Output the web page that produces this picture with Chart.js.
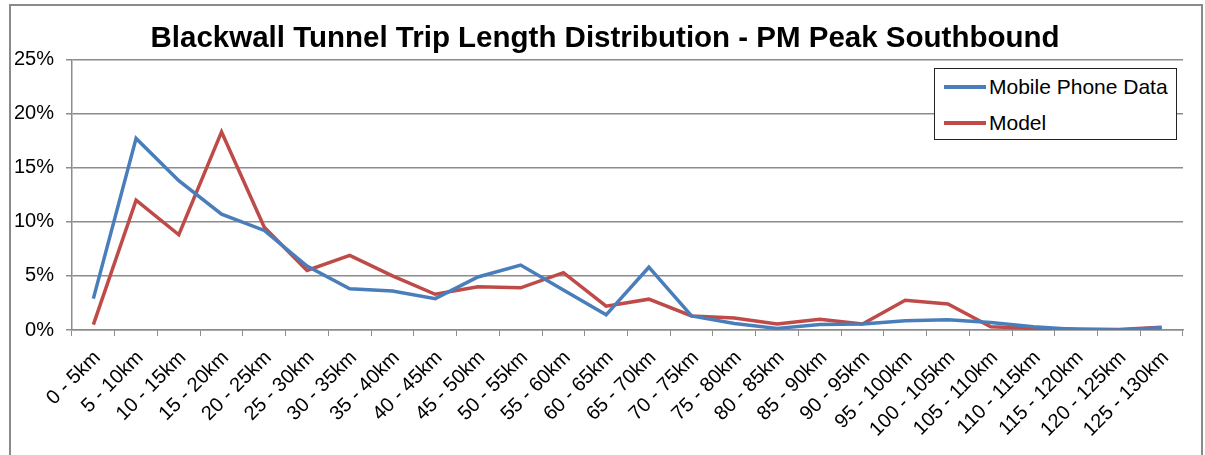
<!DOCTYPE html>
<html>
<head>
<meta charset="utf-8">
<title>Blackwall Tunnel Trip Length Distribution</title>
<script src="https://cdn.jsdelivr.net/npm/chart.js@4/dist/chart.umd.min.js"></script>
<style>
  html, body { margin: 0; padding: 0; background: #fff; overflow: hidden; }
  #wrap { position: relative; width: 1205px; height: 455px; }
  #frame {
    position: absolute; left: 9px; top: 4px; width: 1190px; height: 520px;
    border: 2px solid #8a8a8a; border-bottom: none; pointer-events: none;
  }
  #legend {
    position: absolute; left: 934px; top: 68px; width: 241px; height: 70px;
    border: 1px solid #222; background: #fff;
    font-family: "Liberation Sans", Arial, sans-serif; font-size: 21px; color: #000;
  }
  .leg-row { position: absolute; left: 9px; height: 24px; display: flex; align-items: center; }
  .leg-line { width: 42px; height: 4px; margin-right: 3px; }
</style>
</head>
<body>
<div id="wrap">
  <canvas id="chart" width="1205" height="455"></canvas>
  <div id="frame"></div>
  <div id="legend"></div>
</div>
<script>
// Trip length bands (km)
const bands = [
  "0 - 5km", "5 - 10km", "10 - 15km", "15 - 20km", "20 - 25km", "25 - 30km",
  "30 - 35km", "35 - 40km", "40 - 45km", "45 - 50km", "50 - 55km", "55 - 60km",
  "60 - 65km", "65 - 70km", "70 - 75km", "75 - 80km", "80 - 85km", "85 - 90km",
  "90 - 95km", "95 - 100km", "100 - 105km", "105 - 110km", "110 - 115km",
  "115 - 120km", "120 - 125km", "125 - 130km"
];

// Share of trips (%)
const mobilePhoneData = [
  2.9, 17.7, 13.8, 10.7, 9.2, 5.9, 3.8, 3.6, 2.9, 4.9, 6.0, 3.7, 1.4,
  5.8, 1.3, 0.6, 0.15, 0.5, 0.55, 0.85, 0.95, 0.7, 0.3, 0.05, 0.0, 0.2
];
const model = [
  0.5, 12.0, 8.8, 18.3, 9.5, 5.5, 6.9, 5.0, 3.3, 4.0, 3.9, 5.3, 2.2,
  2.85, 1.3, 1.1, 0.55, 1.0, 0.55, 2.75, 2.4, 0.3, 0.15, 0.1, 0.05, 0.25
];

const yTicks = [0, 5, 10, 15, 20, 25];

const axisGrey = "#8c8c8c";
const fontFamily = "'Liberation Sans', Arial, sans-serif";

const chart = new Chart(document.getElementById("chart"), {
  type: "line",
  data: {
    labels: bands,
    datasets: [
      {
        label: "Mobile Phone Data",
        data: mobilePhoneData,
        borderColor: "#4a7ebb",
        borderWidth: 3.5,
        pointRadius: 0,
        tension: 0
      },
      {
        label: "Model",
        data: model,
        borderColor: "#be4b48",
        borderWidth: 3.5,
        pointRadius: 0,
        tension: 0
      }
    ]
  },
  options: {
    responsive: false,
    animation: false,
    layout: { padding: { left: 5, right: 0, top: 0, bottom: 0 } },
    plugins: {
      legend: { display: false },
      tooltip: { enabled: false },
      title: {
        display: true,
        text: "Blackwall Tunnel Trip Length Distribution - PM Peak Southbound",
        color: "#000",
        font: { family: fontFamily, size: 29.5, weight: "bold", lineHeight: 1.2 },
        padding: { top: 21, bottom: 3 }
      }
    },
    scales: {
      x: {
        offset: true,
        grid: {
          offset: true,
          drawOnChartArea: false,
          drawTicks: true,
          tickLength: 6,
          color: axisGrey
        },
        border: { color: axisGrey, width: 1.5 },
        ticks: {
          autoSkip: false,
          maxRotation: 45,
          minRotation: 45,
          padding: 10,
          labelOffset: 4,
          color: "#000",
          font: { family: fontFamily, size: 20 }
        },
        afterFit: function (scale) { scale.height = 125; }
      },
      y: {
        min: 0,
        max: 25,
        afterBuildTicks: function (scale) {
          scale.ticks = yTicks.map(v => ({ value: v }));
        },
        grid: { color: axisGrey, lineWidth: 1.5, tickLength: 6 },
        border: { color: axisGrey, width: 1.5 },
        ticks: {
          padding: 12,
          color: "#000",
          font: { family: fontFamily, size: 20 },
          callback: function (value) { return value + "%"; }
        },
        afterFit: function (scale) { scale.width = 67; }
      },
      // empty right-hand spacer so the title stays centred on the whole frame
      spacer: {
        type: "linear",
        position: "right",
        grid: { drawOnChartArea: false, drawTicks: false },
        border: { display: false },
        ticks: { display: false },
        afterFit: function (scale) { scale.width = 22; }
      }
    }
  }
});

// Legend box built from the chart's datasets
const legendEl = document.getElementById("legend");
chart.data.datasets.forEach((ds, i) => {
  const row = document.createElement("div");
  row.className = "leg-row";
  row.style.top = (6 + i * 36) + "px";
  row.innerHTML = `<span class="leg-line" style="background:${ds.borderColor}"></span><span>${ds.label}</span>`;
  legendEl.appendChild(row);
});
</script>
</body>
</html>
